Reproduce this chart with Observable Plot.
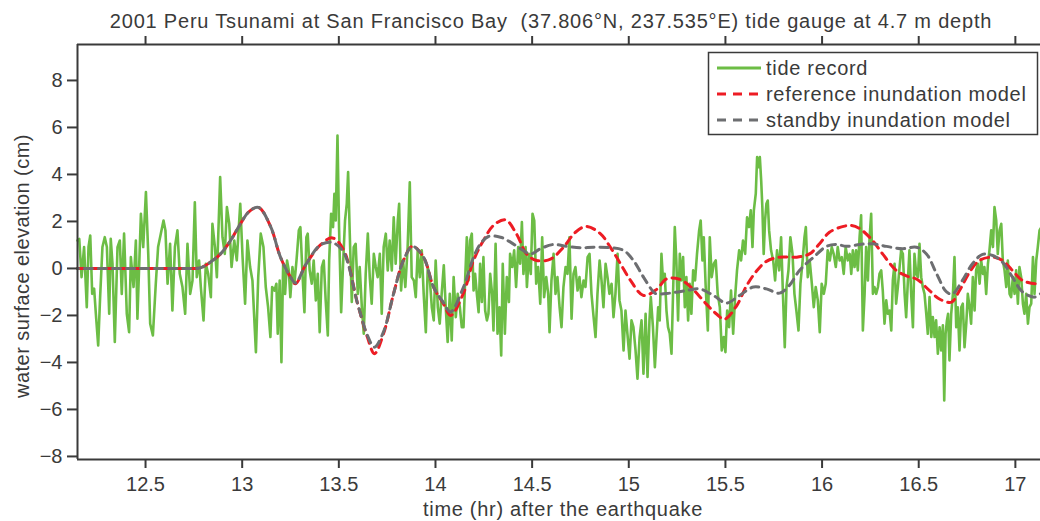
<!DOCTYPE html>
<html><head><meta charset="utf-8">
<script src="https://cdn.jsdelivr.net/npm/d3@7"></script>
<script src="https://cdn.jsdelivr.net/npm/@observablehq/plot@0.6"></script>
<style>
body{margin:0;background:#fff;overflow:hidden}
#chart{position:relative;width:1040px;height:521px;font-family:"Liberation Sans",Arial,Helvetica,sans-serif}
#chart svg{display:block}
#legend{position:absolute;left:0;top:0}
</style></head><body><div id="chart"></div>
<script>
const title = "2001 Peru Tsunami at San Francisco Bay  (37.806°N, 237.535°E) tide gauge at 4.7 m depth";
const xLabel = "time (hr) after the earthquake";
const yLabel = "water surface elevation (cm)";
const xTicks = [12.5, 13, 13.5, 14, 14.5, 15, 15.5, 16, 16.5, 17];
const yTicks = [-8, -6, -4, -2, 0, 2, 4, 6, 8];
const xDomain = [12.148, 17.13];
const yDomain = [-8.13, 9.53];
const seriesNames = ["tide record", "reference inundation model", "standby inundation model"];
const seriesColors = ["#6cbd45", "#ed1c24", "#6d6e71"];

// tide gauge record: [hour, cm]
const tideRecord = [
[12.148,1.19],[12.157,1.26],[12.169,-0.37],[12.182,0.91],[12.196,-1.65],[12.205,0.91],[12.214,1.40],[12.224,-1.08],[12.234,-0.86],[12.243,-1.93],
[12.255,-3.28],[12.265,-1.22],[12.277,0.91],[12.289,1.33],[12.300,0.91],[12.312,-1.93],[12.320,1.26],[12.329,0.20],[12.341,-3.13],[12.355,0.91],
[12.367,1.19],[12.377,-1.08],[12.389,1.48],[12.403,-1.93],[12.415,-2.71],[12.424,0.48],[12.438,-0.79],[12.450,1.19],[12.458,-2.14],[12.476,2.33],
[12.488,0.91],[12.502,3.25],[12.514,0.62],[12.524,-2.35],[12.538,-2.85],[12.553,-0.65],[12.565,0.91],[12.579,1.48],[12.593,2.04],[12.603,1.62],
[12.614,-0.65],[12.627,1.05],[12.639,-1.79],[12.652,0.91],[12.665,1.62],[12.677,-0.23],[12.691,-0.79],[12.705,-1.93],[12.717,1.05],[12.731,-1.08],
[12.743,-0.51],[12.755,2.82],[12.765,-0.37],[12.777,0.34],[12.786,-0.79],[12.800,-2.21],[12.812,0.20],[12.824,-0.23],[12.838,-1.22],[12.846,1.90],
[12.859,0.91],[12.869,-0.37],[12.881,2.61],[12.886,3.89],[12.898,1.33],[12.910,0.62],[12.921,2.61],[12.933,1.90],[12.945,0.06],[12.959,1.19],
[12.972,0.34],[12.990,2.75],[13.002,0.48],[13.015,-1.50],[13.027,1.19],[13.041,0.06],[13.053,-0.51],[13.071,-3.56],[13.083,-0.37],[13.096,1.48],
[13.110,0.91],[13.122,-0.79],[13.134,-1.65],
[13.146,-2.92],[13.155,-0.79],[13.167,-0.94],[13.177,-0.65],[13.184,-2.78],[13.194,-0.51],[13.203,-3.99],[13.212,0.20],[13.222,-1.08],[13.232,0.34],
[13.241,-0.08],[13.249,-1.22],[13.260,0.06],[13.270,-0.65],[13.281,0.34],[13.293,1.62],[13.301,1.76],[13.312,-0.23],[13.322,-1.86],[13.332,1.33],
[13.339,1.48],[13.349,-0.08],[13.360,-0.65],[13.370,0.34],[13.381,-1.36],[13.391,-0.23],[13.401,-2.71],[13.412,0.06],[13.422,0.34],[13.432,-1.36],
[13.443,-2.85],[13.450,0.34],[13.460,2.33],[13.470,1.76],[13.477,3.18],[13.484,2.04],[13.493,5.66],[13.501,1.76],[13.512,-1.86],[13.522,0.20],
[13.532,2.04],[13.541,2.75],[13.548,4.10],[13.556,1.62],[13.567,-1.43],[13.577,0.91],[13.587,1.05],[13.598,-1.08],[13.608,0.06],[13.619,-1.65],
[13.629,-2.78],[13.639,-0.23],[13.650,1.48],[13.660,-0.37],[13.670,-1.50],[13.681,0.62],[13.691,0.06],[13.701,-0.37],[13.712,0.62],[13.722,-1.93],
[13.732,0.91],[13.743,1.48],[13.753,-0.08],[13.763,1.19],[13.774,-0.08],[13.784,2.18],[13.794,0.20],[13.805,2.04],[13.812,2.75],[13.822,-0.94],
[13.832,0.34],[13.844,-0.79],[13.856,0.91],[13.867,3.67],[13.877,-0.37],[13.888,-0.51],[13.898,-1.22],[13.908,0.77],[13.919,-0.37],[13.929,0.77],
[13.939,-1.08],[13.950,-2.71],[13.960,0.06],[13.970,-0.37],[13.981,-1.65],[13.991,-2.21],[14.001,0.34],[14.012,-1.65],[14.022,-2.35],[14.032,-1.08],
[14.043,0.13],[14.053,-1.65],[14.063,-3.13],[14.074,-1.08],[14.084,-3.06],[14.094,-0.37],[14.105,-2.07],[14.115,-1.08],[14.126,-1.65],[14.136,-2.50],
[14.145,-2.50],[14.154,-0.37],[14.162,1.33],[14.171,-0.51],[14.179,1.19],[14.188,1.48],[14.197,-0.94],[14.205,-0.23],[14.214,-1.08],[14.223,-1.86],
[14.231,0.20],[14.240,-1.43],[14.248,0.48],[14.257,-1.79],[14.266,-2.21],[14.274,-1.93],[14.283,-0.23],[14.293,-1.08],[14.300,-2.64],[14.311,1.05],
[14.321,-2.78],[14.331,-1.65],[14.340,-3.70],[14.348,0.20],[14.359,-2.78],[14.369,-0.37],[14.380,-1.43],[14.386,0.62],[14.397,0.06],[14.407,0.77],
[14.417,-0.79],[14.428,0.91],[14.438,0.20],[14.447,1.97],[14.455,-0.23],[14.466,0.91],[14.473,-0.79],[14.483,0.62],[14.493,-0.23],[14.502,2.33],
[14.511,2.04],[14.521,-0.65],[14.531,0.06],[14.542,-1.50],[14.552,1.33],[14.562,-1.22],[14.573,-0.37],[14.583,-1.08],[14.590,-2.71],[14.600,-0.51],
[14.611,0.62],[14.621,-1.08],[14.631,-0.37],[14.642,-1.65],[14.652,-2.50],[14.662,-0.79],[14.673,0.06],[14.683,-0.23],[14.693,1.33],[14.704,-2.14],
[14.714,-0.23],[14.724,0.06],[14.735,-0.94],[14.745,-0.37],[14.755,-1.22],[14.766,-0.51],[14.776,-0.79],[14.787,0.48],[14.797,0.62],[14.807,-1.08],
[14.818,-2.07],[14.828,-2.92],[14.838,-1.08],[14.849,0.34],[14.859,-0.51],[14.869,-1.65],[14.880,0.20],[14.890,-0.37],[14.900,-1.08],[14.911,-0.65],
[14.921,-2.07],[14.931,-1.08],[14.942,0.62],[14.952,-1.36],[14.962,-1.79],[14.973,-3.49],[14.983,-1.79],[14.993,-2.78],[15.004,-3.84],[15.014,-2.21],
[15.024,-2.50],[15.035,-3.49],[15.045,-4.69],[15.056,-2.92],[15.066,-2.21],[15.076,-4.48],[15.087,-1.93],[15.097,-4.62],[15.107,-2.21],[15.114,-1.22],
[15.125,-2.50],[15.135,-4.20],
[15.152,-1.65],[15.160,-2.21],[15.169,0.62],[15.177,-0.51],[15.186,-0.23],[15.195,-1.79],[15.203,-2.50],[15.212,-2.78],[15.221,-3.63],[15.229,-1.08],
[15.238,1.76],[15.246,0.34],[15.255,-2.21],[15.264,0.62],[15.272,-0.51],[15.281,0.48],[15.290,-1.65],[15.298,-0.37],[15.307,-2.21],[15.315,-0.65],
[15.324,-1.93],[15.333,-0.08],[15.343,-0.51],[15.353,0.62],[15.364,1.62],[15.372,2.04],[15.381,0.34],[15.388,1.33],[15.398,-0.79],[15.409,-2.64],
[15.419,1.33],[15.429,-0.37],[15.440,0.20],[15.450,0.34],[15.460,-1.08],[15.471,-1.65],[15.481,-3.49],[15.491,-2.92],[15.500,-3.56],[15.509,-1.79],
[15.519,-2.50],[15.529,-0.94],[15.540,-2.78],[15.550,-1.22],[15.560,-0.08],[15.571,0.77],[15.581,0.34],[15.591,1.19],[15.602,0.62],[15.612,2.18],
[15.622,1.76],[15.631,2.47],[15.640,0.91],[15.647,2.47],[15.657,3.18],[15.664,4.74],[15.671,4.31],[15.678,4.74],[15.685,3.74],[15.691,2.61],
[15.698,0.62],[15.705,2.04],[15.712,2.75],[15.719,2.89],[15.726,1.62],[15.736,0.77],[15.747,0.34],[15.757,-0.51],[15.767,0.77],[15.778,-0.08],
[15.788,1.33],[15.798,-1.22],[15.807,-3.35],[15.816,-0.79],[15.826,-0.08],[15.836,1.33],[15.847,0.62],[15.857,-1.08],[15.867,-1.79],[15.878,-2.64],
[15.888,-0.65],[15.898,0.20],[15.909,1.33],[15.916,1.76],[15.926,-0.37],[15.936,0.34],[15.947,-0.65],[15.957,-1.65],[15.967,-0.79],[15.978,-1.36],
[15.988,-2.71],[15.998,-0.65],[16.009,-1.08],[16.019,-0.65],[16.029,0.77],[16.040,0.34],[16.050,0.91],[16.060,0.62],[16.071,0.06],[16.081,0.91],
[16.091,0.34],[16.102,0.48],[16.112,-0.23],[16.122,0.91],[16.133,0.34],[16.143,0.62],
[16.151,-0.23],[16.159,0.77],[16.168,0.06],[16.176,0.77],[16.185,-0.08],[16.194,1.33],[16.202,2.26],[16.211,-2.64],[16.220,-1.08],[16.228,0.91],
[16.237,-0.51],[16.245,1.19],[16.254,2.33],[16.263,-1.08],[16.271,-0.79],[16.280,-1.08],[16.289,-0.79],[16.297,-0.23],[16.306,-0.08],[16.314,-0.94],
[16.323,-2.35],[16.332,-1.36],[16.340,-1.93],[16.349,-1.79],[16.358,-2.64],[16.366,-0.51],[16.375,0.20],[16.383,-1.50],[16.392,-0.79],[16.401,0.06],
[16.409,0.77],[16.418,0.62],[16.427,-1.08],[16.435,-2.07],[16.444,-0.51],[16.452,0.77],[16.461,-1.08],[16.470,-2.50],[16.478,0.62],[16.487,-0.23],
[16.496,-0.37],[16.504,1.05],[16.513,-0.37],[16.521,-0.79],[16.530,-1.08],[16.539,-1.93],[16.547,-2.78],[16.556,-1.22],[16.565,-2.92],[16.573,-2.07],
[16.582,-2.92],[16.590,-2.21],[16.599,-3.63],[16.608,-2.50],[16.616,-3.49],[16.625,-2.42],[16.632,-5.62],[16.639,-2.78],[16.646,-2.21],[16.652,-1.93],
[16.659,-3.91],[16.668,-1.93],[16.677,-1.08],[16.685,0.48],[16.694,-2.50],[16.702,-1.65],[16.711,-3.49],[16.720,-1.65],[16.728,-1.50],[16.737,-3.35],
[16.746,-2.35],[16.754,-1.08],[16.763,-1.65],[16.771,-2.35],[16.780,-0.37],[16.789,-1.79],[16.797,-0.08],[16.806,0.20],[16.815,-0.65],[16.823,0.34],
[16.832,-0.23],[16.840,0.06],[16.849,-1.08],[16.858,0.20],[16.866,0.77],[16.875,1.62],[16.884,0.91],[16.892,2.61],[16.901,2.04],[16.909,0.62],
[16.918,1.62],[16.927,1.90],[16.935,0.34],[16.944,-0.08],[16.953,-0.79],[16.961,0.34],[16.970,-1.08],[16.978,-1.22],[16.987,-0.37],[16.996,-1.08],
[17.004,-0.08],[17.013,-1.50],[17.021,0.06],[17.030,-0.37],[17.039,-1.50],[17.047,-1.93],[17.056,-1.08],[17.065,-2.35],[17.073,-1.65],[17.082,-1.50],
[17.091,0.48],[17.099,-1.08],[17.108,0.34],[17.116,0.91],[17.125,1.62],[17.130,1.70]
];

// reference inundation model: [hour, cm]
const referenceModel = [
[12.148,0],[12.45,0],[12.70,0],[12.784,0.03],[12.836,0.27],[12.888,0.62],[12.940,1.19],[12.991,1.90],[13.033,2.40],[13.084,2.60],
[13.146,1.80],[13.198,0.48],[13.250,-0.37],[13.276,-0.65],[13.328,0.15],[13.405,1.00],[13.467,1.30],[13.524,0.80],[13.597,-1.50],[13.648,-2.93],
[13.684,-3.63],[13.731,-2.78],[13.783,-1.08],[13.834,0.34],[13.881,0.94],[13.938,0.48],[13.990,-0.79],[14.041,-1.50],[14.078,-2.00],[14.145,-1.05],
[14.197,0.34],[14.248,1.19],[14.300,1.83],[14.362,2.07],[14.419,1.47],[14.471,0.62],[14.523,0.34],[14.595,0.40],[14.662,0.90],[14.724,1.54],
[14.781,1.79],[14.854,1.47],[14.905,0.90],[14.957,0.20],[15.009,-0.51],[15.076,-1.15],[15.143,-0.90],[15.195,-0.45],[15.262,-0.46],[15.314,-0.74],
[15.402,-1.52],[15.454,-1.94],[15.495,-2.16],[15.557,-1.60],[15.609,-0.74],[15.661,-0.11],[15.712,0.30],[15.780,0.48],[15.868,0.48],[15.935,0.62],
[15.987,1.05],[16.038,1.54],[16.111,1.79],[16.152,1.83],[16.194,1.70],[16.261,1.19],[16.313,0.62],[16.385,-0.09],[16.452,-0.37],[16.488,-0.45],
[16.556,-0.94],[16.607,-1.30],[16.670,-1.43],[16.711,-0.94],[16.763,-0.16],[16.814,0.34],[16.882,0.48],[16.933,0.34],[16.985,-0.09],[17.037,-0.51],
[17.109,-0.65],[17.130,-0.60]
];

// standby inundation model: [hour, cm]
const standbyModel = [
[12.148,0],[12.45,0],[12.70,0],[12.784,0.03],[12.836,0.27],[12.888,0.62],[12.940,1.19],[12.991,1.90],[13.033,2.40],[13.084,2.60],
[13.146,1.80],[13.198,0.48],[13.250,-0.37],[13.276,-0.62],[13.328,0.15],[13.405,1.00],[13.467,1.10],[13.524,0.70],[13.597,-1.50],[13.648,-2.85],
[13.684,-3.35],[13.731,-2.70],[13.783,-1.08],[13.834,0.34],[13.881,0.94],[13.938,0.48],[13.990,-0.79],[14.041,-1.45],[14.078,-1.85],[14.145,-0.79],
[14.197,0.48],[14.233,1.05],[14.274,1.36],[14.336,1.33],[14.388,1.12],[14.440,0.84],[14.492,0.62],[14.543,0.84],[14.611,1.02],[14.678,0.94],
[14.750,0.88],[14.817,0.90],[14.905,0.88],[14.973,0.77],[15.024,0.34],[15.076,-0.37],[15.128,-1.00],[15.143,-1.08],[15.211,-1.05],[15.299,-0.94],
[15.366,-0.87],[15.438,-1.15],[15.505,-1.47],[15.573,-1.15],[15.645,-0.79],[15.712,-0.87],[15.780,-1.05],[15.831,-0.72],[15.883,-0.09],[15.956,0.48],
[16.023,0.94],[16.075,1.02],[16.126,0.94],[16.194,1.02],[16.261,1.05],[16.333,0.94],[16.416,0.84],[16.488,0.90],[16.540,0.62],[16.592,-0.22],
[16.644,-1.00],[16.675,-1.08],[16.726,-0.51],[16.778,0.20],[16.830,0.60],[16.882,0.55],[16.933,0.27],[16.985,-0.37],[17.037,-1.00],[17.099,-1.22],
[17.130,-1.08]
];

const toRows = arr => arr.map(([t, v]) => ({t, v}));
const ink = "#3a3a3a";
const font = "\"Liberation Sans\",Arial,Helvetica,sans-serif";

const plot = Plot.plot({
  width: 1040,
  height: 521,
  marginLeft: 77,
  marginRight: 0,
  marginTop: 44,
  marginBottom: 62,
  style: {fontFamily: font, fontSize: "20px", color: ink, background: "#fff"},
  x: {domain: xDomain, axis: null},
  y: {domain: yDomain, axis: null},
  marks: [
    Plot.line(toRows(tideRecord), {x: "t", y: "v", stroke: seriesColors[0], strokeWidth: 2.6, curve: "linear", strokeLinejoin: "round"}),
    Plot.line(toRows(referenceModel), {x: "t", y: "v", stroke: seriesColors[1], strokeWidth: 3, curve: "catmull-rom", strokeDasharray: "8,6"}),
    Plot.line(toRows(standbyModel), {x: "t", y: "v", stroke: seriesColors[2], strokeWidth: 3, curve: "catmull-rom", strokeDasharray: "8,6", strokeDashoffset: 7}),
    Plot.ruleY([yDomain[0]], {stroke: ink, strokeWidth: 2}),
    Plot.ruleY([yDomain[1]], {stroke: ink, strokeWidth: 2}),
    Plot.ruleX([xDomain[0]], {stroke: ink, strokeWidth: 2}),
    Plot.axisX(xTicks, {anchor: "bottom", tickSize: 9, tickPadding: 8, strokeWidth: 2, stroke: ink, fill: ink, fontSize: 20, label: null, tickFormat: d => String(d)}),
    Plot.axisX(xTicks, {anchor: "top", tickSize: 9, strokeWidth: 2, stroke: ink, tickFormat: () => "", label: null}),
    Plot.axisY(yTicks, {anchor: "left", tickSize: 10, tickPadding: 5, strokeWidth: 2, stroke: ink, fill: ink, fontSize: 20, label: null}),
    Plot.text([title], {frameAnchor: "top", lineAnchor: "middle", textAnchor: "middle", dx: -8, dy: -23, fontSize: 20, fill: ink}),
    Plot.text([xLabel], {frameAnchor: "bottom", lineAnchor: "middle", textAnchor: "middle", dx: 4, dy: 50, fontSize: 20, fill: ink}),
    Plot.text([yLabel], {frameAnchor: "left", lineAnchor: "middle", textAnchor: "middle", dx: -55, dy: 14, rotate: -90, fontSize: 20, fill: ink})
  ]
});
document.getElementById("chart").appendChild(plot);
// widen the letter spacing of the three titles to the reference's setting
const spacing = new Map([[title, "0.8px"], [xLabel, "0.7px"], [yLabel, "0.45px"]]);
plot.querySelectorAll("text").forEach(t => {
  if (spacing.has(t.textContent)) t.style.letterSpacing = spacing.get(t.textContent);
});

// legend box
const lg = d3.select("#chart").append("svg").attr("id", "legend")
  .attr("width", 1040).attr("height", 521).style("pointer-events", "none");
lg.append("rect").attr("x", 708.5).attr("y", 52.5).attr("width", 329).attr("height", 82)
  .attr("fill", "#fff").attr("stroke", ink).attr("stroke-width", 1.5);
seriesNames.forEach((name, i) => {
  const y = 68 + i * 26;
  lg.append("line").attr("x1", 717).attr("x2", 761).attr("y1", y).attr("y2", y)
    .attr("stroke", seriesColors[i]).attr("stroke-width", 3)
    .attr("stroke-dasharray", i === 0 ? null : "9,7");
  lg.append("text").attr("x", 766).attr("y", y).attr("dy", "0.35em")
    .attr("font-family", font).attr("font-size", 20).attr("letter-spacing", 0.7)
    .attr("fill", ink).text(name);
});
</script></body></html>
